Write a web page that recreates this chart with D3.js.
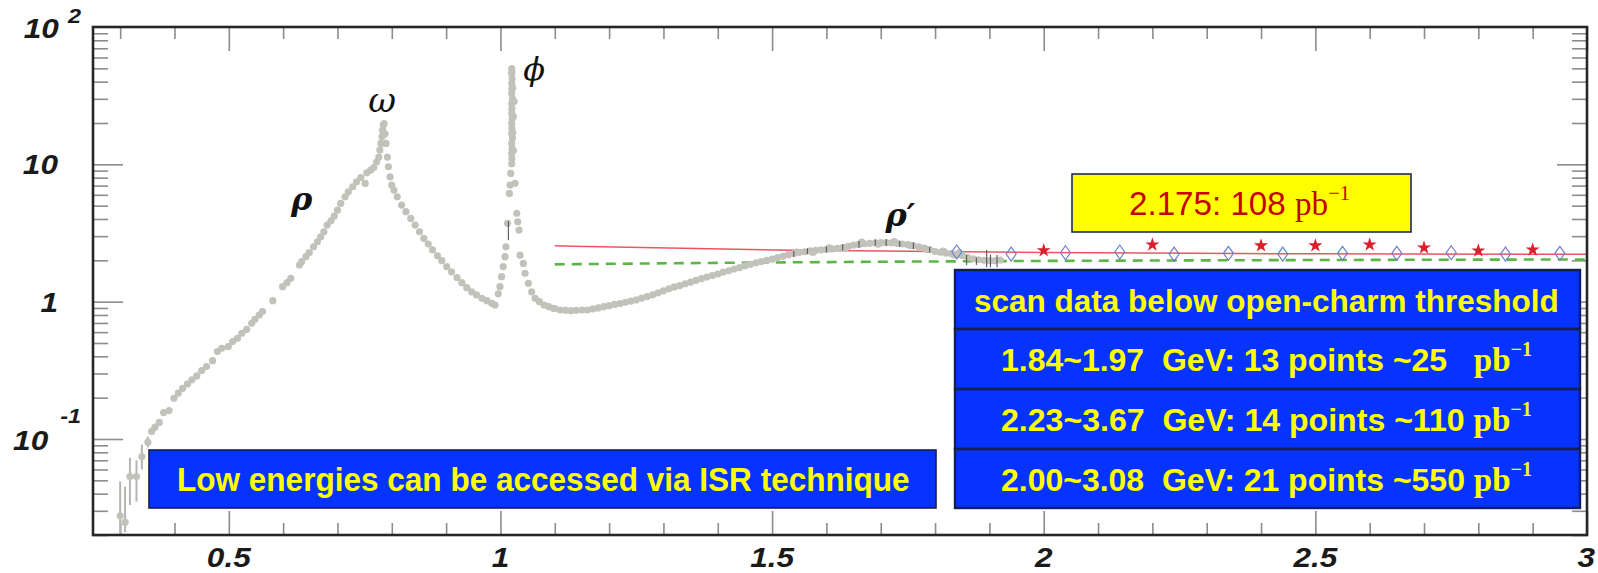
<!DOCTYPE html>
<html><head><meta charset="utf-8">
<script src="https://cdn.jsdelivr.net/npm/d3@7"></script>
<style>body{margin:0;background:#fff}svg{display:block}</style>
</head><body>
<svg id="c" width="1598" height="573"></svg>
<script>
// ---------------- data ----------------
const xDomain = [0.25, 3.0];
const yDomain = [0.02, 100];
const xTickValues = [0.5, 1, 1.5, 2, 2.5, 3];
const xTickLabels = ["0.5", "1", "1.5", "2", "2.5", "3"];
const yTickValues = [100, 10, 1, 0.1];
const yTickBase = ["10", "10", "1", "10"];
const yTickExp = ["2", "", "", "-1"];

// gray ISR cross-section points [E (GeV), value]
const rhoPoints = [[0.300,0.0276],[0.309,0.0248],[0.318,0.0533],[0.330,0.0533],[0.340,0.0746],[0.351,0.0949],[0.358,0.1135],[0.364,0.122],[0.372,0.132],[0.380,0.156],[0.390,0.161],[0.399,0.198],[0.407,0.216],[0.415,0.234],[0.424,0.252],[0.432,0.270],[0.441,0.288],[0.450,0.315],[0.459,0.337],[0.470,0.372],[0.479,0.433],[0.487,0.458],[0.499,0.471],[0.507,0.512],[0.516,0.541],[0.524,0.589],[0.533,0.629],[0.542,0.696],[0.548,0.745],[0.556,0.800],[0.562,0.847],[0.581,1.017],[0.599,1.285],[0.607,1.374],[0.614,1.478],[0.630,1.848],[0.634,1.954],[0.642,2.125],[0.648,2.273],[0.656,2.51],[0.663,2.73],[0.669,2.97],[0.675,3.23],[0.681,3.61],[0.688,3.88],[0.694,4.2],[0.700,4.64],[0.706,5.19],[0.714,5.8],[0.720,6.31],[0.728,6.87],[0.735,7.47],[0.743,8.02],[0.751,7.26],[0.754,8.67],[0.761,9.07],[0.767,9.48],[0.772,10.4],[0.776,11.3],[0.778,12.7],[0.780,14.2],[0.782,15.9],[0.783,17.7],[0.7845,19.3],[0.786,19.8]];
const omegaTailPoints = [[0.7876,16.7],[0.7894,14.2],[0.7919,11.3],[0.7937,9.6],[0.7968,8.1],[0.7998,7.06],[0.804,6.49],[0.810,5.8],[0.818,5.05],[0.826,4.52],[0.835,4.04],[0.843,3.61],[0.851,3.23],[0.859,2.89],[0.867,2.63],[0.875,2.38],[0.884,2.16],[0.892,1.99],[0.901,1.8],[0.910,1.65],[0.920,1.5],[0.929,1.374],[0.938,1.265],[0.947,1.18],[0.956,1.12],[0.966,1.057],[0.975,1.017],[0.984,0.973],[0.990,0.946]];
const phiPoints = [[0.996,1.14],[0.999,1.285],[1.002,1.52],[1.005,1.8],[1.0085,2.125],[1.010,2.51],[1.013,3.72],[1.0164,6.14],[1.0177,7.06],[1.0189,8.59],[1.0207,10.1],[1.021,11],[1.0207,12.0],[1.0215,13],[1.0207,14.2],[1.022,15.5],[1.0207,16.8],[1.021,18.3],[1.0207,19.8],[1.0215,21.5],[1.0207,23.4],[1.021,25.5],[1.0207,27.7],[1.022,30],[1.0207,32.8],[1.021,35.5],[1.0207,38.7],[1.0215,42],[1.0207,45.8],[1.021,47],[1.0207,49.8],[1.0238,12.6],[1.0238,22.3],[1.025,28.7],[1.0225,17],[1.0225,36],[1.0269,7.27],[1.030,4.4],[1.0318,3.82],[1.0342,3.32],[1.0361,2.18],[1.0422,1.9],[1.0453,1.61],[1.0514,1.36],[1.0575,1.18],[1.0637,1.057],[1.0717,1.0],[1.0803,0.946],[1.0889,0.92],[1.0974,0.895]];
const highMassPoints = [[1.10,0.89],[1.11,0.87],[1.12,0.865],[1.13,0.86],[1.14,0.865],[1.15,0.87],[1.16,0.87],[1.17,0.885],[1.18,0.9],[1.19,0.92],[1.20,0.935],[1.21,0.955],[1.22,0.97],[1.23,0.99],[1.24,1.01],[1.25,1.03],[1.26,1.06],[1.27,1.09],[1.28,1.12],[1.29,1.16],[1.30,1.2],[1.31,1.24],[1.32,1.28],[1.33,1.31],[1.34,1.35],[1.35,1.39],[1.36,1.43],[1.37,1.47],[1.38,1.51],[1.39,1.55],[1.40,1.59],[1.41,1.64],[1.42,1.68],[1.43,1.73],[1.44,1.77],[1.45,1.82],[1.46,1.87],[1.47,1.92],[1.48,1.96],[1.49,2.0],[1.50,2.04],[1.51,2.09],[1.52,2.14],[1.53,2.2],[1.54,2.24],[1.55,2.28],[1.56,2.31],[1.57,2.34],[1.58,2.36],[1.59,2.38],[1.60,2.4],[1.61,2.42],[1.62,2.44],[1.63,2.48],[1.64,2.53],[1.65,2.58],[1.66,2.61],[1.67,2.64],[1.68,2.66],[1.69,2.68],[1.70,2.69],[1.71,2.69],[1.72,2.68],[1.73,2.66],[1.74,2.63],[1.75,2.6],[1.76,2.56],[1.77,2.51],[1.78,2.45],[1.79,2.39],[1.80,2.32],[1.81,2.29],[1.82,2.26],[1.83,2.24],[1.84,2.21],[1.85,2.17],[1.86,2.1],[1.87,2.05],[1.88,2.02],[1.89,2.0],[1.90,1.99],[1.91,1.99],[1.92,2.01],
  [1.545,2.3],[1.575,2.28],[1.605,2.47],[1.635,2.45],[1.665,2.72],[1.695,2.62],[1.725,2.74],[1.755,2.56],[1.785,2.4],[1.815,2.33],[1.835,2.2],[1.845,2.28]];
// error bars [E, low, high]
const lowErrorBars = [[0.300,0.0205,0.049],[0.309,0.021,0.045],[0.318,0.033,0.073],[0.330,0.035,0.07],[0.340,0.06,0.091],[0.351,0.087,0.104]];
const darkErrorBars = [[1.0146,2.8,3.85],[1.54,2.12,2.34],[1.565,2.22,2.45],[1.60,2.28,2.52],[1.63,2.36,2.62],[1.66,2.48,2.76],[1.69,2.56,2.84],[1.71,2.55,2.85],[1.735,2.5,2.78],[1.76,2.42,2.7],[1.79,2.28,2.5],[1.858,1.85,2.19],[1.876,1.85,2.1],[1.895,1.78,2.38],[1.902,1.78,2.2],[1.914,1.78,2.19]];
// theory curves
const redCurve = [[1.1,2.55],[1.5,2.38],[2.0,2.28],[2.5,2.23],[3.0,2.21]];
const greenCurve = [[1.1,1.87],[1.5,1.93],[2.0,1.98],[2.5,2.01],[3.0,2.03]];
// scan points
const diamondX = [1.84,1.94,2.04,2.14,2.24,2.34,2.44,2.55,2.65,2.75,2.85,2.95];
const diamondY = [2.3,2.22,2.27,2.3,2.22,2.25,2.22,2.25,2.25,2.27,2.22,2.25];
const starX = [2.0,2.2,2.4,2.5,2.6,2.7,2.8,2.9];
const starY = [2.36,2.6,2.56,2.56,2.6,2.47,2.35,2.39];
// annotations
const greekText = ["ρ","ω","ϕ","ρ′"];
const greekX = [0.634,0.782,1.062,1.736];
const greekY = [4.64,23.9,41,3.55];
const yellowText = ["2.175: 108 ", "pb", "−1"];
const isrText = "Low energies can be accessed via ISR technique";
const scanRows = ["scan data below open-charm threshold", "1.84~1.97  GeV: 13 points ~25   ", "2.23~3.67  GeV: 14 points ~110 ", "2.00~3.08  GeV: 21 points ~550 "];
const scanRowUnit = [false, true, true, true];

// ---------------- chart ----------------
const svg = d3.select("#c");
const L = 93, R = 1587, T = 27, B = 535;
const x = d3.scaleLinear().domain(xDomain).range([L, R]);
const y = d3.scaleLog().domain(yDomain).range([B, T]);

const tickColor = "#8c8c8c";
function styleAxis(g){ g.select(".domain").remove(); g.selectAll(".tick line").attr("stroke", tickColor).attr("stroke-width", 1.6); g.selectAll(".tick text").remove(); }
const xMinor = x.ticks(28).filter(v => Math.abs(v*2 - Math.round(v*2)) > 1e-6);
const yMinor = [];
[-2,-1,0,1].forEach(d => { for (let m = 2; m <= 9; m++) { const v = m*Math.pow(10,d); if (v >= yDomain[0] && v <= yDomain[1]) yMinor.push(v); } });
const yMajor = yTickValues.filter(v => v < yDomain[1]);

svg.append("g").attr("transform", `translate(0,${B})`).call(d3.axisBottom(x).tickValues(xTickValues).tickSize(-24)).call(styleAxis);
svg.append("g").attr("transform", `translate(0,${B})`).call(d3.axisBottom(x).tickValues(xMinor).tickSize(-12)).call(styleAxis);
svg.append("g").attr("transform", `translate(0,${T})`).call(d3.axisTop(x).tickValues(xTickValues).tickSize(-24)).call(styleAxis);
svg.append("g").attr("transform", `translate(0,${T})`).call(d3.axisTop(x).tickValues(xMinor).tickSize(-12)).call(styleAxis);
svg.append("g").attr("transform", `translate(${L},0)`).call(d3.axisLeft(y).tickValues(yMajor).tickSize(-30)).call(styleAxis);
svg.append("g").attr("transform", `translate(${L},0)`).call(d3.axisLeft(y).tickValues(yMinor).tickSize(-15)).call(styleAxis);
svg.append("g").attr("transform", `translate(${R},0)`).call(d3.axisRight(y).tickValues(yMajor).tickSize(-30)).call(styleAxis);
svg.append("g").attr("transform", `translate(${R},0)`).call(d3.axisRight(y).tickValues(yMinor).tickSize(-15)).call(styleAxis);

// tick labels (wide bold italic)
const lblFont = "'Liberation Sans', Arial, Helvetica, sans-serif";
const stretch = 1.17;
function label(px, py, anchor, size, txt) {
  return svg.append("text").attr("x", 0).attr("y", 0).attr("transform", `translate(${px},${py}) scale(${stretch},1)`)
    .attr("text-anchor", anchor).attr("font-family", lblFont).attr("font-weight", "bold").attr("font-style", "italic")
    .attr("font-size", size).attr("fill", "#1a1a1a").text(txt);
}
xTickValues.forEach((v, i) => {
  if (i === xTickValues.length - 1) label(1595, 567, "end", 27, xTickLabels[i]);
  else label(x(v), 567, "middle", 27, xTickLabels[i]);
});

yTickValues.forEach((v, i) => {
  const ty = y(v);
  if (yTickExp[i] === "") {
    label(58, ty + 10, "end", 27, yTickBase[i]);
  } else {
    const raise = yTickExp[i] === "2" ? -4 : -16;
    const ex = label(81, ty + raise, "end", 20, yTickExp[i]);
    const w = ex.node().getBBox().width * stretch;
    label(81 - w - (yTickExp[i] === "2" ? 8 : 12), ty + 11, "end", 27, yTickBase[i]);
  }
});

// plot content
svg.append("clipPath").attr("id", "clip").append("rect").attr("x", L).attr("y", T).attr("width", R-L).attr("height", B-T);
const plot = svg.append("g").attr("clip-path", "url(#clip)");

const line = d3.line().x(d => x(d[0])).y(d => y(d[1])).curve(d3.curveMonotoneX);
plot.append("path").datum(greenCurve).attr("d", line).attr("fill", "none").attr("stroke", "#5cb547").attr("stroke-width", 2.6).attr("stroke-dasharray", "10,7");
plot.append("path").datum(redCurve).attr("d", line).attr("fill", "none").attr("stroke", "#ec5560").attr("stroke-width", 1.5);

const allPts = rhoPoints.concat(omegaTailPoints, phiPoints, highMassPoints);
plot.append("g").selectAll("line").data(lowErrorBars).join("line")
  .attr("x1", d => x(d[0])).attr("x2", d => x(d[0])).attr("y1", d => y(d[1])).attr("y2", d => y(d[2]))
  .attr("stroke", "#b4b4b0").attr("stroke-width", 2);
plot.append("g").selectAll("circle").data(allPts).join("circle")
  .attr("cx", d => x(d[0])).attr("cy", d => y(d[1])).attr("r", 3.6).attr("fill", "#c2c2ba");
plot.append("g").selectAll("line").data(darkErrorBars).join("line")
  .attr("x1", d => x(d[0])).attr("x2", d => x(d[0])).attr("y1", d => y(d[1])).attr("y2", d => y(d[2]))
  .attr("stroke", "#555").attr("stroke-width", 1.1);

const diamondPath = "M0,-7L5,0L0,7L-5,0Z";
plot.append("g").selectAll("path").data(diamondX).join("path")
  .attr("transform", (d,i) => `translate(${x(d)},${y(diamondY[i])})`).attr("d", diamondPath)
  .attr("fill", "none").attr("stroke", "#6f80cc").attr("stroke-width", 1.2);
const star = d3.symbol().type(d3.symbolStar).size(62);
plot.append("g").selectAll("path").data(starX).join("path")
  .attr("transform", (d,i) => `translate(${x(d)},${y(starY[i])})`).attr("d", star).attr("fill", "#dc1f2d");

// greek labels
svg.append("g").selectAll("text").data(greekText).join("text")
  .attr("x", (d,i) => x(greekX[i])).attr("y", (d,i) => y(greekY[i])).attr("text-anchor", "middle")
  .attr("font-family", "'DejaVu Serif', 'Liberation Serif', serif").attr("font-style", "italic")
  .attr("font-weight", (d,i) => (i === 0 || i === 3) ? "bold" : "normal")
  .attr("font-size", (d,i) => [32, 34, 32, 32][i]).attr("fill", "#111").text(d => d);

// helper to fit text horizontally
function fitWidth(t, left, width) {
  const bb = t.node().getBBox();
  const s = width / bb.width;
  t.attr("transform", `translate(${left - bb.x*s},0) scale(${s},1)`);
}

// yellow box
svg.append("rect").attr("x", 1072).attr("y", 174).attr("width", 339).attr("height", 58)
  .attr("fill", "#ffff00").attr("stroke", "#1b2b6b").attr("stroke-width", 1.6);
const yt = svg.append("text").attr("x", 0).attr("y", 215).attr("fill", "#c40000").style("white-space", "pre");
yt.append("tspan").attr("font-family", "'Liberation Sans Narrow','Liberation Sans',Arial,sans-serif").attr("font-size", 34).text(yellowText[0]);
yt.append("tspan").attr("font-family", "'Liberation Serif','Times New Roman',serif").attr("font-size", 34).text(yellowText[1]);
yt.append("tspan").attr("font-family", "'Liberation Serif','Times New Roman',serif").attr("font-size", 21).attr("dy", -15).text(yellowText[2]);
fitWidth(yt, 1129, 221);

// ISR box
const boxBlue = "#0633ff", boxEdge = "#14214f";
svg.append("rect").attr("x", 149).attr("y", 450).attr("width", 787).attr("height", 58)
  .attr("fill", boxBlue).attr("stroke", boxEdge).attr("stroke-width", 1.6);
const it = svg.append("text").attr("x", 0).attr("y", 491).attr("fill", "#ffff00")
  .attr("font-family", "'Liberation Sans',Arial,sans-serif").attr("font-weight", "bold").attr("font-size", 33).text(isrText);
fitWidth(it, 177, 733);

// scan table
const rowTop = [270, 329, 389, 449], rowH = [59, 60, 60, 59];
const rowTextLeft = [974, 1001, 1001, 1001], rowTextW = [585, 531, 531, 531];
svg.append("rect").attr("x", 955).attr("y", 270).attr("width", 625).attr("height", 238).attr("fill", boxBlue);
scanRows.forEach((txt, i) => {
  svg.append("rect").attr("x", 955).attr("y", rowTop[i]).attr("width", 625).attr("height", rowH[i])
    .attr("fill", "none").attr("stroke", boxEdge).attr("stroke-width", 2.4);
  const t = svg.append("text").attr("x", 0).attr("y", rowTop[i] + 42).attr("fill", "#ffff00").style("white-space", "pre");
  t.append("tspan").attr("font-family", "'Liberation Sans',Arial,sans-serif").attr("font-weight", "bold").attr("font-size", 32).text(txt);
  if (scanRowUnit[i]) {
    t.append("tspan").attr("font-family", "'Liberation Serif','Times New Roman',serif").attr("font-weight", "bold").attr("font-size", 33).text("pb");
    t.append("tspan").attr("font-family", "'Liberation Serif','Times New Roman',serif").attr("font-weight", "bold").attr("font-size", 20).attr("dy", -15).text("−1");
  }
  fitWidth(t, rowTextLeft[i], rowTextW[i]);
});

// frame
svg.append("rect").attr("x", L).attr("y", T).attr("width", R-L).attr("height", B-T)
  .attr("fill", "none").attr("stroke", "#262626").attr("stroke-width", 2.6);
</script>
</body></html>
